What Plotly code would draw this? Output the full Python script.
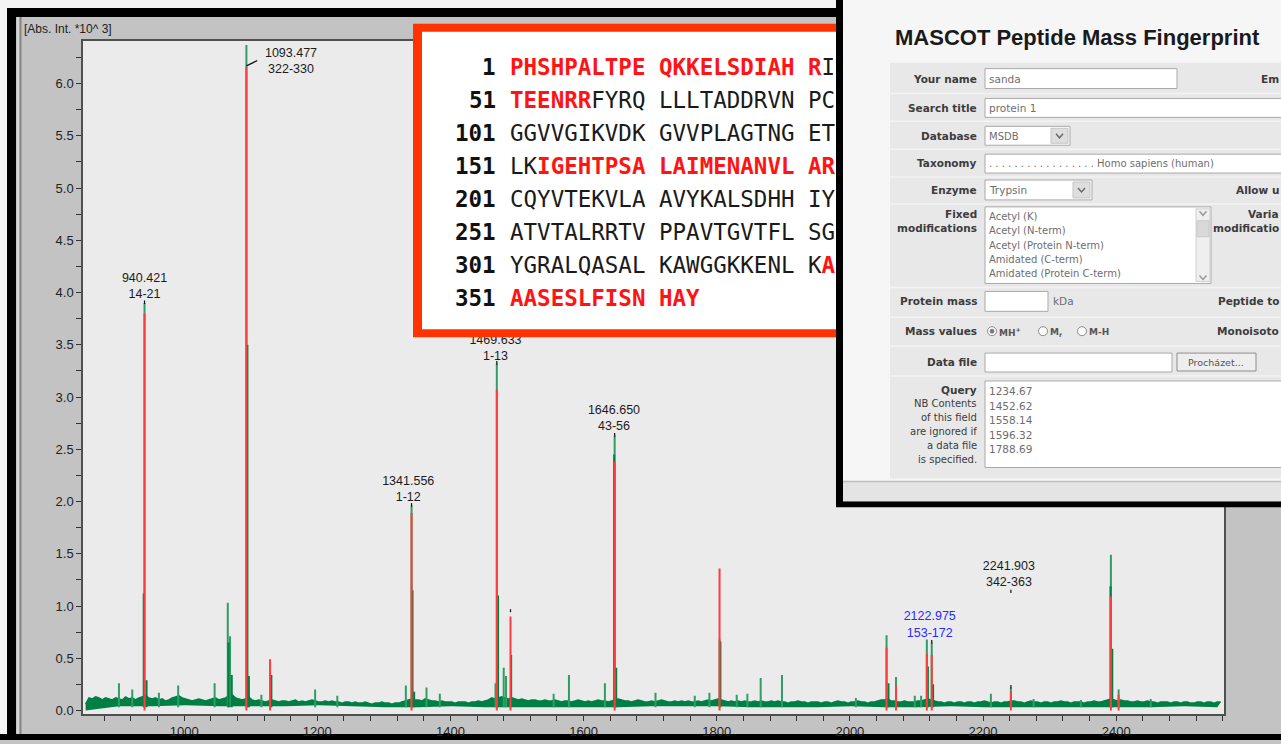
import plotly.graph_objects as go

W, H = 1281, 744

# ---------------- spectrum data (m/z, intensity x10^3) ----------------
NOISE_START, NOISE_STEP = 852, 5
# upper edge of the noise band, in hundredths
noise_top = [
    6, 12, 11, 13, 12, 10, 12, 11, 10, 12, 11, 10, 13, 11, 12, 10, 12, 13, 14, 12,
    11, 12, 10, 11, 9, 10, 12, 13, 14, 12, 11, 10, 9, 10, 11, 10, 9, 10, 11, 12,
    10, 11, 12, 14, 15, 12, 11, 10, 11, 13, 10, 9, 10, 9, 8, 9, 10, 9, 8, 9,
    9, 8, 9, 10, 8, 9, 8, 9, 10, 9, 8, 8, 9, 8, 9, 8, 8, 7, 8, 8,
    7, 8, 7, 7, 8, 7, 6, 7, 7, 8, 7, 7, 6, 7, 7, 8, 9, 10, 11, 10,
    10, 9, 11, 10, 9, 9, 8, 9, 8, 8, 8, 7, 8, 8, 8, 7, 8, 8, 9, 8,
    9, 10, 12, 11, 12, 13, 12, 11, 12, 11, 10, 11, 10, 9, 10, 10, 9, 9, 10, 9,
    9, 10, 9, 8, 9, 9, 8, 9, 10, 9, 8, 9, 8, 9, 10, 9, 9, 8, 9, 10,
    11, 10, 9, 9, 8, 9, 10, 9, 8, 8, 9, 8, 9, 10, 9, 8, 8, 9, 8, 9,
    8, 9, 8, 8, 9, 8, 9, 10, 9, 10, 11, 10, 9, 8, 9, 8, 9, 8, 9, 8,
    8, 9, 8, 9, 8, 8, 9, 8, 9, 8, 8, 7, 8, 8, 9, 8, 8, 7, 8, 8,
    8, 7, 8, 8, 7, 8, 9, 8, 8, 7, 8, 8, 9, 8, 8, 7, 8, 8, 9, 10,
    10, 11, 9, 9, 8, 8, 9, 8, 8, 8, 9, 9, 10, 11, 10, 9, 8, 8, 7, 8,
    8, 7, 8, 8, 7, 8, 8, 7, 8, 8, 9, 8, 7, 8, 8, 7, 8, 8, 9, 9,
    8, 8, 7, 8, 9, 8, 8, 7, 8, 8, 7, 8, 8, 9, 8, 8, 7, 8, 8, 8,
    7, 8, 8, 9, 8, 8, 9, 10, 11, 10, 9, 10, 9, 9, 8, 8, 9, 8, 8, 9,
    8, 8, 7, 8, 8, 8, 7, 8, 8, 7, 8, 8, 7, 7, 8, 8, 7, 8, 8, 7,
    8, 8,
]
FLOOR_START, FLOOR_STEP = 852, 50
# lower edge of the noise band, in hundredths
noise_floor = [0, 4, 4, 5, 4, 4, 4, 5, 4, 3, 3, 4, 3, 3, 3, 3, 3, 4, 4, 4,
               3, 3, 3, 4, 3, 3, 4, 3, 3, 3, 3, 3, 3, 4, 3]

# raw spectrum peaks
peak_mz = [940.421, 1093.477, 1341.556, 1469.633, 1646.650, 1804.2, 2055.1,
           2115.6, 2122.975, 2392.1,
           902, 922, 962, 991, 1045.7, 1065.5, 1068.9, 1116, 1196.7, 1230,
           1333, 1364, 1384, 1467.7, 1480, 1483.5, 1555, 1578, 1632, 1708,
           1767, 1789, 1830, 1846, 1866, 1898, 2009, 2069.3, 2097.5, 2107,
           2211.8, 2241.903, 2276, 2347, 2403.7, 2452]
peak_int = [3.90, 6.37, 1.96, 3.32, 2.63, 0.68, 0.72,
            0.68, 0.65, 1.49,
            0.26, 0.20, 0.17, 0.24, 0.26, 1.03, 0.71, 0.15, 0.20, 0.14,
            0.24, 0.22, 0.16, 0.26, 0.41, 0.33, 0.16, 0.34, 0.26, 0.17,
            0.14, 0.17, 0.15, 0.16, 0.31, 0.34, 0.12, 0.32, 0.14, 0.14,
            0.16, 0.22, 0.11, 0.10, 0.20, 0.11]
# isotope / shoulder peaks
shoulder_mz = [939.2, 943.5, 1095.0, 1097.2, 1066.6, 1071.5, 1131, 1343.0,
               1345.5, 1471.5, 1491.2, 1645.9, 1649.0, 1805.5, 2058, 2117.2,
               2125, 2391.5, 2394.2]
shoulder_int = [1.12, 0.29, 3.50, 0.33, 0.65, 0.34, 0.34, 1.15,
                0.18, 1.10, 0.53, 2.45, 0.41, 0.66, 0.26, 0.42,
                0.25, 1.19, 0.59]

# peaks matched to the theoretical digest
match_mz = [940.421, 1093.477, 1129.0, 1341.556, 1469.633, 1490.2, 1646.650,
            1804.2, 2055.1, 2069.3, 2115.6, 2122.975, 2241.903, 2392.1, 2403.7]
match_int = [3.80, 6.16, 0.49, 1.89, 3.07, 0.90, 2.38,
             1.36, 0.60, 0.24, 0.54, 0.53, 0.18, 1.09, 0.15]

# annotated peptides
label_mz = [940.421, 1093.477, 1341.556, 1469.633, 1646.650, 2122.975, 2241.903]
label_range = ["14-21", "322-330", "1-12", "1-13", "43-56", "153-172", "342-363"]

# protein sequence, split into (residues, covered) runs
seq_start = [1, 51, 101, 151, 201, 251, 301, 351]
seq_rows = [
    [("PHSHPALTPE QKKELSDIAH R", True), ("I", False)],
    [("TEENRR", True), ("FYRQ LLLTADDRVN PC", False)],
    [("GGVVGIKVDK GVVPLAGTNG ET", False)],
    [("LK", False), ("IGEHTPSA LAIMENANVL AR", True)],
    [("CQYVTEKVLA AVYKALSDHH IY", False)],
    [("ATVTALRRTV PPAVTGVTFL SG", False)],
    [("YGRALQASAL KAWGGKKENL K", False), ("A", True)],
    [("AASESLFISN HAY", True)],
]

query_masses = ["1234.67", "1452.62", "1558.14", "1596.32", "1788.69"]
mod_options = ["Acetyl (K)", "Acetyl (N-term)", "Acetyl (Protein N-term)",
               "Amidated (C-term)", "Amidated (Protein C-term)"]

# ---------------- helpers ----------------
GREEN_DARK = "#007f45"
GREEN = "#2f9d64"
RED = "#ff3c3c"
SEQ_RED = "#ff1414"
BOX_RED = "#ff3300"


def X(p):
    return p / W


def Y(p):
    return 1 - p / H


def rect(x0, y0, x1, y1, fill, line=None, lw=0, layer="above"):
    return dict(type="rect", xref="paper", yref="paper",
                x0=X(x0), x1=X(x1), y0=Y(y1), y1=Y(y0),
                fillcolor=fill, line=dict(color=line or fill, width=lw),
                layer=layer)


def hline(x0, x1, y, color, lw=1, layer="above"):
    return dict(type="line", xref="paper", yref="paper", x0=X(x0), x1=X(x1),
                y0=Y(y), y1=Y(y), line=dict(color=color, width=lw), layer=layer)


def vline(x, y0, y1, color, lw=1, layer="above"):
    return dict(type="line", xref="paper", yref="paper", x0=X(x), x1=X(x),
                y0=Y(y0), y1=Y(y1), line=dict(color=color, width=lw), layer=layer)


def circle(cx, cy, r, fill, line, lw=1):
    return dict(type="circle", xref="paper", yref="paper",
                x0=X(cx - r), x1=X(cx + r), y0=Y(cy + r), y1=Y(cy - r),
                fillcolor=fill, line=dict(color=line, width=lw), layer="above")


def chevron(cx, cy, color="#6a6a6a"):
    pts = [(cx - 3.5, cy - 2), (cx, cy + 2), (cx + 3.5, cy - 2)]
    d = "M " + " L ".join(f"{X(a)},{Y(b)}" for a, b in pts)
    return dict(type="path", xref="paper", yref="paper", path=d,
                line=dict(color=color, width=1.5), layer="above")


def text(x, y, s, size=11, color="#3a3a3a", anchor="left",
         family="DejaVu Sans", bold=False):
    if bold:
        s = f"<b>{s}</b>"
    return dict(xref="paper", yref="paper", x=X(x), y=Y(y), text=s,
                showarrow=False, xanchor=anchor, yanchor="middle",
                font=dict(size=size, color=color, family=family),
                borderpad=0)


def sticks(xs, ys, base):
    sx, sy = [], []
    for a, b in zip(xs, ys):
        sx += [a, a, None]
        sy += [base, b, None]
    return sx, sy


# ---------------- spectrum traces ----------------
fig = go.Figure()

floor_x = [FLOOR_START + FLOOR_STEP * i for i in range(len(noise_floor))]
top_x = [NOISE_START + NOISE_STEP * i for i in range(len(noise_top))]
fig.add_trace(go.Scatter(x=floor_x, y=[v / 100 for v in noise_floor],
                         mode="lines", line=dict(width=0, color=GREEN_DARK),
                         hoverinfo="skip"))
fig.add_trace(go.Scatter(x=top_x, y=[v / 100 for v in noise_top],
                         mode="lines", fill="tonexty", fillcolor=GREEN_DARK,
                         line=dict(width=1.6, color=GREEN_DARK), hoverinfo="skip"))

sx, sy = sticks(peak_mz, peak_int, 0.03)
fig.add_trace(go.Scatter(x=sx, y=sy, mode="lines",
                         line=dict(width=2, color=GREEN), hoverinfo="skip"))
sx, sy = sticks(shoulder_mz, shoulder_int, 0.03)
fig.add_trace(go.Scatter(x=sx, y=sy, mode="lines",
                         line=dict(width=2, color=GREEN_DARK), hoverinfo="skip"))
sx, sy = sticks(match_mz, match_int, 0.0)
fig.add_trace(go.Scatter(x=sx, y=sy, mode="lines",
                         line=dict(width=2, color=RED), hoverinfo="skip"))

# small black anchor ticks above annotated peaks
top_of = dict(zip(peak_mz, peak_int))
tick_x, tick_y = [], []
for m in label_mz:
    if m == 1093.477:
        continue
    tick_x += [m, m, None]
    tick_y += [top_of[m] - 0.01, top_of[m] + 0.025, None]
tick_x += [1490.2, 1490.2, None, 2241.903, 2241.903, None]
tick_y += [0.94, 0.97, None, 1.125, 1.155, None]
# leader of the 1093 label
tick_x += [1093.477, 1109.7, None]
tick_y += [match_int[1] + 0.01, 6.22, None]
fig.add_trace(go.Scatter(x=tick_x, y=tick_y, mode="lines",
                         line=dict(width=1.2, color="#111111"), hoverinfo="skip"))

# peak labels: (m/z offset, label centre height)
label_place = [(0, 4.055), (67, 6.21), (-5, 2.11), (-2, 3.46), (-1, 2.79),
               (-3, 0.815), (-3, 1.295)]
for m, r, (dx, ly) in zip(label_mz, label_range, label_place):
    col = "#2a2aff" if m == 2122.975 else "#1c1c1c"
    fig.add_trace(go.Scatter(x=[m + dx], y=[ly], mode="text",
                             text=[f"{m:.3f}<br>{r}"], textposition="middle center",
                             textfont=dict(size=12.5, color=col,
                                           family="Liberation Sans"),
                             hoverinfo="skip", cliponaxis=False))

# ---------------- window frame ----------------
shapes = [
    rect(0, 0, 7, 744, "#f4f4f4", layer="below"),
    rect(0, 0, 836, 8, "#f4f4f4", layer="below"),
    rect(7, 8, 836, 17, "#000000", layer="below"),
    rect(7, 8, 16, 744, "#000000", layer="below"),
    rect(0, 738, 1281, 744, "#000000", layer="below"),
    vline(18, 17, 738, "#e6e6e6", 1, layer="below"),
    vline(20.5, 17, 738, "#858585", 2, layer="below"),
]

# ---------------- sequence coverage box ----------------
shapes += [
    rect(413, 24, 846, 339, BOX_RED),
    rect(422, 32, 846, 331, "#ffffff"),
]
annotations = []
for i, (num, parts) in enumerate(zip(seq_start, seq_rows)):
    yy = 67 + 33.2 * i
    annotations.append(text(497, yy, f"<b>{num}</b>", size=22.5, color="#111111",
                            anchor="right", family="DejaVu Sans Mono"))
    html = ""
    for s, covered in parts:
        if covered:
            html += f'<span style="color:{SEQ_RED}"><b>{s}</b></span>'
        else:
            html += f'<span style="color:#1a1a1a">{s}</span>'
    annotations.append(text(509, yy, html, size=22.5, color="#1a1a1a",
                            anchor="left", family="DejaVu Sans Mono"))

# ---------------- MASCOT search form panel ----------------
FIELD = "#a9a9a9"
shapes += [
    rect(836, 0, 1281, 510, "#000000"),
    rect(843, 0, 1281, 504, "#f6f6f6"),
    rect(890, 63, 1281, 481, "#e8e8e8"),
]
for yy in [94, 122, 150, 178, 205, 289, 319, 348, 378]:
    shapes.append(hline(890, 1281, yy, "#f3f3f3", 1.5))
shapes += [
    rect(843, 484, 1281, 504, "#e4e4e4"),
    hline(843, 1281, 484, "#bcbcbc", 1.5),
    # name / title / database / taxonomy / enzyme
    rect(985, 69, 1177, 89, "#ffffff", FIELD, 1),
    rect(985, 99, 1290, 118, "#ffffff", FIELD, 1),
    rect(985, 127, 1070, 146, "#ffffff", FIELD, 1),
    rect(1051, 129, 1068, 144, "#dedede", "#c4c4c4", 1),
    rect(985, 155, 1290, 174, "#ffffff", FIELD, 1),
    rect(985, 181, 1092, 201, "#ffffff", FIELD, 1),
    rect(1073, 183, 1090, 199, "#dedede", "#c4c4c4", 1),
    # fixed modifications list
    rect(985, 208, 1211, 285, "#ffffff", FIELD, 1),
    rect(1196, 210, 1210, 283, "#efefef", "#cfcfcf", 1),
    rect(1197, 222, 1209, 238, "#d9d9d9", "#c8c8c8", 1),
    # protein mass, data file, browse button, query box
    rect(985, 293, 1048, 313, "#ffffff", FIELD, 1),
    rect(985, 355, 1172, 374, "#ffffff", FIELD, 1),
    rect(1177, 355, 1256, 373, "#eeeeee", "#8c8c8c", 1),
    rect(985, 383, 1290, 470, "#ffffff", FIELD, 1),
]
shapes += [chevron(1059.5, 136.5), chevron(1081.5, 191)]
shapes += [chevron(1203, 214.5, "#9a9a9a"), chevron(1203, 279, "#9a9a9a")]
shapes += [
    circle(992, 333, 4.5, "#ffffff", "#8a8a8a"),
    circle(992, 333, 2, "#7a7a7a", "#7a7a7a"),
    circle(1043, 333, 4.5, "#ffffff", "#8a8a8a"),
    circle(1082, 333, 4.5, "#ffffff", "#8a8a8a"),
]

annotations.append(text(894, 38, "MASCOT Peptide Mass Fingerprint", size=22,
                        color="#1a1a1a", family="Liberation Sans", bold=True))
LBL = "#3c3c3c"
for s, yy in [("Your name", 79), ("Search title", 109), ("Database", 137),
              ("Taxonomy", 164), ("Enzyme", 191), ("Fixed", 215),
              ("modifications", 229), ("Protein mass", 303),
              ("Mass values", 333), ("Data file", 364), ("Query", 392)]:
    annotations.append(text(978, yy, s, size=10.5, color=LBL, anchor="right",
                            bold=True))
for s, yy in [("NB Contents", 406), ("of this field", 420),
              ("are ignored if", 434), ("a data file", 448),
              ("is specified.", 462)]:
    annotations.append(text(978, yy, s, size=10, color=LBL, anchor="right"))
for s, yy in [("Em", 79), ("Allow u", 191), ("Varia", 215),
              ("modificatio", 229), ("Peptide to", 303), ("Monoisoto", 333)]:
    annotations.append(text(1280, yy, s, size=10.5, color=LBL, anchor="right",
                            bold=True))

VAL = "#6e6e6e"
annotations += [
    text(988, 79, "sanda", size=10.5, color=VAL),
    text(988, 109, "protein 1", size=10.5, color=VAL),
    text(988, 137, "MSDB", size=10, color=VAL),
    text(988, 164, ". . . . . . . . . . . . . . . . . Homo sapiens (human)",
         size=10, color=VAL),
    text(988, 191, "Trypsin", size=10.5, color=VAL),
    text(1052, 303, "kDa", size=10.5, color=VAL),
    text(998, 334, "MH<sup>+</sup>", size=9, color="#555555", bold=True),
    text(1049, 334, "M<sub>r</sub>", size=9, color="#555555", bold=True),
    text(1088, 334, "M-H", size=9, color="#555555", bold=True),
    text(1216, 364, "Procházet...", size=9.5, color="#555555", anchor="center"),
]
for i, s in enumerate(mod_options):
    annotations.append(text(988, 218 + 14.2 * i, s, size=10, color=VAL))
for i, s in enumerate(query_masses):
    annotations.append(text(988, 393 + 14.7 * i, s, size=10.5, color=VAL))

# y-axis caption
annotations.append(text(23, 29, "[Abs. Int. *10^ 3]", size=12, color="#222222",
                        family="Liberation Sans"))

# ---------------- layout ----------------
AX_FONT = dict(size=13, color="#222222", family="Liberation Sans")
fig.update_layout(
    width=W, height=H,
    margin=dict(l=0, r=0, t=0, b=0),
    paper_bgcolor="#c3c3c3",
    plot_bgcolor="#ebebeb",
    showlegend=False,
    shapes=shapes,
    annotations=annotations,
    xaxis=dict(domain=[83 / W, 1224 / W], range=[848, 2562],
               showgrid=False, zeroline=False, showline=True, mirror=True,
               linecolor="#505050", linewidth=1.5,
               ticks="outside", ticklen=5, tickcolor="#333333", tickwidth=1,
               dtick=200, tick0=0, tickfont=AX_FONT,
               minor=dict(dtick=40, ticks="outside", ticklen=5,
                          tickcolor="#333333")),
    yaxis=dict(domain=[1 - 718 / H, 1 - 41 / H], range=[-0.035, 6.41],
               showgrid=False, zeroline=False, showline=True, mirror=True,
               linecolor="#505050", linewidth=1.5,
               ticks="outside", ticklen=5, tickcolor="#333333", tickwidth=1,
               dtick=0.5, tick0=0, tickformat=".1f", tickfont=AX_FONT,
               minor=dict(dtick=0.25, ticks="outside", ticklen=5,
                          tickcolor="#333333")),
)

fig.write_html("out.html")
